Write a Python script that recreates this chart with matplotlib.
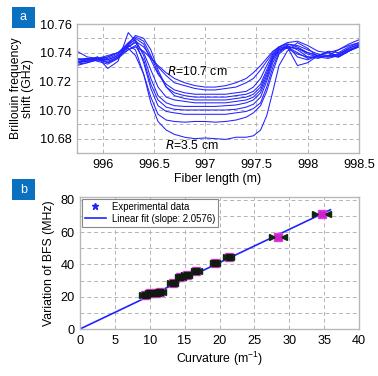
import matplotlib
matplotlib.use("Agg")
import matplotlib.pyplot as plt
from matplotlib.patches import Rectangle
import numpy as np

plt.rcParams['font.family'] = ['Liberation Sans', 'DejaVu Sans']
plt.rcParams['mathtext.fontset'] = 'custom'
plt.rcParams['mathtext.rm'] = 'Liberation Sans'

# ---------------- Panel a data ----------------
fiber_x = [995.75, 995.85, 995.95, 996.05, 996.15, 996.25, 996.32, 996.4, 996.47, 996.54,
           996.62, 996.7, 996.8, 996.9, 997.0, 997.1, 997.2, 997.3, 997.4, 997.47,
           997.54, 997.6, 997.66, 997.72, 997.8, 997.9, 998.0, 998.1, 998.2, 998.3,
           998.4, 998.5]

bfs_c0 = [10.734, 10.735, 10.736, 10.735, 10.738, 10.742, 10.744, 10.741, 10.736, 10.731,
          10.726, 10.722, 10.719, 10.717, 10.716, 10.716, 10.717, 10.719, 10.722, 10.726,
          10.731, 10.736, 10.741, 10.744, 10.746, 10.745, 10.742, 10.739, 10.738, 10.739,
          10.742, 10.745]
bfs_c1 = [10.733, 10.734, 10.735, 10.734, 10.737, 10.744, 10.748, 10.744, 10.737, 10.730,
          10.724, 10.719, 10.717, 10.715, 10.714, 10.714, 10.715, 10.716, 10.719, 10.722,
          10.728, 10.734, 10.740, 10.744, 10.747, 10.748, 10.745, 10.741, 10.740, 10.742,
          10.746, 10.749]
bfs_c2 = [10.735, 10.736, 10.734, 10.732, 10.736, 10.745, 10.750, 10.746, 10.735, 10.725,
          10.718, 10.714, 10.712, 10.711, 10.711, 10.711, 10.711, 10.712, 10.713, 10.716,
          10.722, 10.731, 10.739, 10.744, 10.746, 10.744, 10.740, 10.738, 10.737, 10.739,
          10.743, 10.746]
bfs_c3 = [10.733, 10.734, 10.736, 10.737, 10.740, 10.747, 10.751, 10.748, 10.738, 10.726,
          10.716, 10.712, 10.710, 10.709, 10.709, 10.709, 10.709, 10.710, 10.711, 10.713,
          10.718, 10.728, 10.738, 10.743, 10.745, 10.742, 10.737, 10.736, 10.738, 10.737,
          10.741, 10.745]
bfs_c4 = [10.732, 10.733, 10.735, 10.733, 10.737, 10.746, 10.752, 10.750, 10.742, 10.728,
          10.716, 10.710, 10.708, 10.707, 10.707, 10.707, 10.707, 10.708, 10.709, 10.711,
          10.716, 10.726, 10.737, 10.743, 10.744, 10.740, 10.736, 10.738, 10.740, 10.738,
          10.741, 10.744]
bfs_c5 = [10.741, 10.737, 10.736, 10.735, 10.738, 10.744, 10.747, 10.740, 10.728, 10.716,
          10.709, 10.707, 10.706, 10.705, 10.705, 10.705, 10.705, 10.706, 10.707, 10.709,
          10.714, 10.724, 10.736, 10.742, 10.743, 10.739, 10.737, 10.737, 10.738, 10.737,
          10.741, 10.745]
bfs_c6 = [10.731, 10.733, 10.735, 10.736, 10.739, 10.746, 10.749, 10.738, 10.722, 10.710,
          10.705, 10.703, 10.7025, 10.7025, 10.7025, 10.7025, 10.703, 10.7035, 10.705, 10.707,
          10.712, 10.722, 10.735, 10.742, 10.744, 10.743, 10.739, 10.737, 10.736, 10.738,
          10.742, 10.744]
bfs_c7 = [10.736, 10.735, 10.737, 10.733, 10.736, 10.742, 10.745, 10.735, 10.718, 10.707,
          10.702, 10.7005, 10.700, 10.700, 10.700, 10.700, 10.700, 10.7005, 10.702, 10.704,
          10.709, 10.720, 10.733, 10.741, 10.744, 10.743, 10.740, 10.738, 10.737, 10.739,
          10.743, 10.746]
bfs_c8 = [10.734, 10.734, 10.737, 10.729, 10.734, 10.754, 10.748, 10.733, 10.715, 10.703,
          10.699, 10.698, 10.697, 10.697, 10.697, 10.697, 10.697, 10.698, 10.699, 10.701,
          10.705, 10.716, 10.730, 10.740, 10.745, 10.737, 10.735, 10.738, 10.741, 10.740,
          10.744, 10.747]
bfs_c9 = [10.733, 10.735, 10.736, 10.738, 10.740, 10.743, 10.738, 10.725, 10.709, 10.697,
          10.693, 10.692, 10.6915, 10.692, 10.692, 10.6915, 10.692, 10.693, 10.695, 10.698,
          10.703, 10.713, 10.727, 10.739, 10.744, 10.731, 10.733, 10.738, 10.740, 10.737,
          10.741, 10.745]
bfs_c10 = [10.735, 10.736, 10.735, 10.737, 10.740, 10.745, 10.742, 10.725, 10.705, 10.692,
           10.686, 10.683, 10.681, 10.680, 10.6805, 10.680, 10.6795, 10.681, 10.681, 10.682,
           10.686, 10.696, 10.713, 10.731, 10.741, 10.747, 10.743, 10.737, 10.738, 10.742,
           10.745, 10.747]
bfs_curves = [bfs_c0, bfs_c1, bfs_c2, bfs_c3, bfs_c4, bfs_c5, bfs_c6, bfs_c7, bfs_c8, bfs_c9, bfs_c10]

a_xticks = [996, 996.5, 997, 997.5, 998, 998.5]
a_xticklabels = ['996', '996.5', '997', '997.5', '998', '998.5']
a_yticks = [10.68, 10.70, 10.72, 10.74, 10.76]
a_yticklabels = ['10.68', '10.70', '10.72', '10.74', '10.76']

# ---------------- Panel b data ----------------
curvature = [9.3, 10.1, 10.9, 11.5, 13.3, 14.4, 15.3, 16.7, 19.35, 21.3, 28.4, 34.65]
bfs_var = [21.0, 22.3, 22.6, 23.0, 28.3, 32.0, 33.5, 36.0, 41.0, 44.8, 57.2, 71.2]
curv_err = [0.35, 0.35, 0.35, 0.35, 0.35, 0.35, 0.35, 0.35, 0.35, 0.35, 0.85, 0.95]
fit_slope = 2.0576
fit_x = [0, 35.9]

b_xticks = [0, 5, 10, 15, 20, 25, 30, 35, 40]
b_yticks = [0, 20, 40, 60, 80]

# ---------------- Figure ----------------
W, H = 378, 376
fig = plt.figure(figsize=(W / 100, H / 100), dpi=100)

blue = '#2222ff'
gridc = '#b4b4b4'
spinec = '#b8b8b8'
fs = 9.2
lfs = 8.8

def style(ax):
    for s in ax.spines.values():
        s.set_color(spinec)
        s.set_linewidth(1.0)
    ax.tick_params(length=0, labelsize=fs, pad=4)
    ax.grid(True, which='both', color=gridc, linestyle=(0, (4, 3)), linewidth=0.7)
    ax.set_axisbelow(True)

# Panel a
axa = fig.add_axes([77 / W, 1 - 153 / H, (359 - 77) / W, (153 - 24) / H])
for c in bfs_curves:
    axa.plot(fiber_x, c, color=blue, lw=0.75)
axa.set_xlim(995.75, 998.5)
axa.set_ylim(10.670, 10.760)
axa.set_xticks(a_xticks)
axa.set_xticklabels(a_xticklabels)
axa.set_yticks(a_yticks)
axa.set_yticklabels(a_yticklabels)
axa.set_yticks([10.67, 10.69, 10.71, 10.73, 10.75], minor=True)
style(axa)
axa.tick_params(which='minor', length=0)
axa.set_xlabel('Fiber length (m)', fontsize=lfs, labelpad=2)
axa.set_ylabel('Brillouin frequency\nshift (GHz)', fontsize=lfs, labelpad=4, linespacing=1.0)
axa.text(996.63, 10.7272, r'$\it{R}$=10.7 cm', fontsize=lfs, va='center', ha='left')
axa.text(996.61, 10.6753, r'$\it{R}$=3.5 cm', fontsize=lfs, va='center', ha='left')

# Panel b
axb = fig.add_axes([80 / W, 1 - 329 / H, (359 - 80) / W, (329 - 197) / H])
fx = np.array(fit_x)
axb.plot(fx, fit_slope * fx, color=blue, lw=1.2, zorder=2,
         label='Linear fit (slope: 2.0576)')
cx = np.array(curvature)
cy = np.array(bfs_var)
ce = np.array(curv_err)
axb.plot(cx, cy, linestyle='none', marker='s', markersize=6, color='#e040e0', zorder=3)
axb.plot(cx - ce, cy, linestyle='none', marker='>', markersize=5, color='#102810', zorder=4)
axb.plot(cx + ce, cy, linestyle='none', marker='<', markersize=5, color='#102810', zorder=4)
axb.plot(cx[cx < 25], cy[cx < 25], linestyle='none', marker='s', markersize=4.5,
         color='#101a10', zorder=5)
axb.plot(cx[cx > 25], cy[cx > 25], linestyle='none', marker='X', markersize=5,
         color='#d020d0', zorder=5)
axb.plot([], [], linestyle='none', marker='*', markersize=5, color=blue, label='Experimental data')
axb.set_xlim(0, 40)
axb.set_ylim(0, 81.8)
axb.set_xticks(b_xticks)
axb.set_yticks(b_yticks)
axb.set_yticks([10, 30, 50, 70], minor=True)
style(axb)
axb.tick_params(which='minor', length=0)
axb.set_xlabel(r'Curvature (m$^{\mathregular{-1}}$)', fontsize=lfs, labelpad=2)
axb.set_ylabel('Variation of BFS (MHz)', fontsize=lfs, labelpad=4)
h, l = axb.get_legend_handles_labels()
leg = axb.legend(h[::-1], l[::-1], loc='upper left', fontsize=6.9, frameon=True, fancybox=False,
                 edgecolor='#888888', framealpha=1, borderpad=0.3, handlelength=2.2,
                 handletextpad=0.6, labelspacing=0.2, borderaxespad=0.2)
leg.get_frame().set_linewidth(0.8)

# Panel letter boxes
boxc = '#0a70c0'
for (x0, y0, w, hh, t) in [(12, 7, 23, 21, 'a'), (12, 179, 23, 21, 'b')]:
    fig.patches.append(Rectangle((x0 / W, 1 - (y0 + hh) / H), w / W, hh / H,
                                 transform=fig.transFigure, facecolor=boxc,
                                 edgecolor='none', zorder=10))
    fig.text((x0 + w / 2) / W, 1 - (y0 + hh / 2) / H, t, color='white', fontsize=9,
             ha='center', va='center', zorder=11)

fig.savefig('out.png', dpi=100)
